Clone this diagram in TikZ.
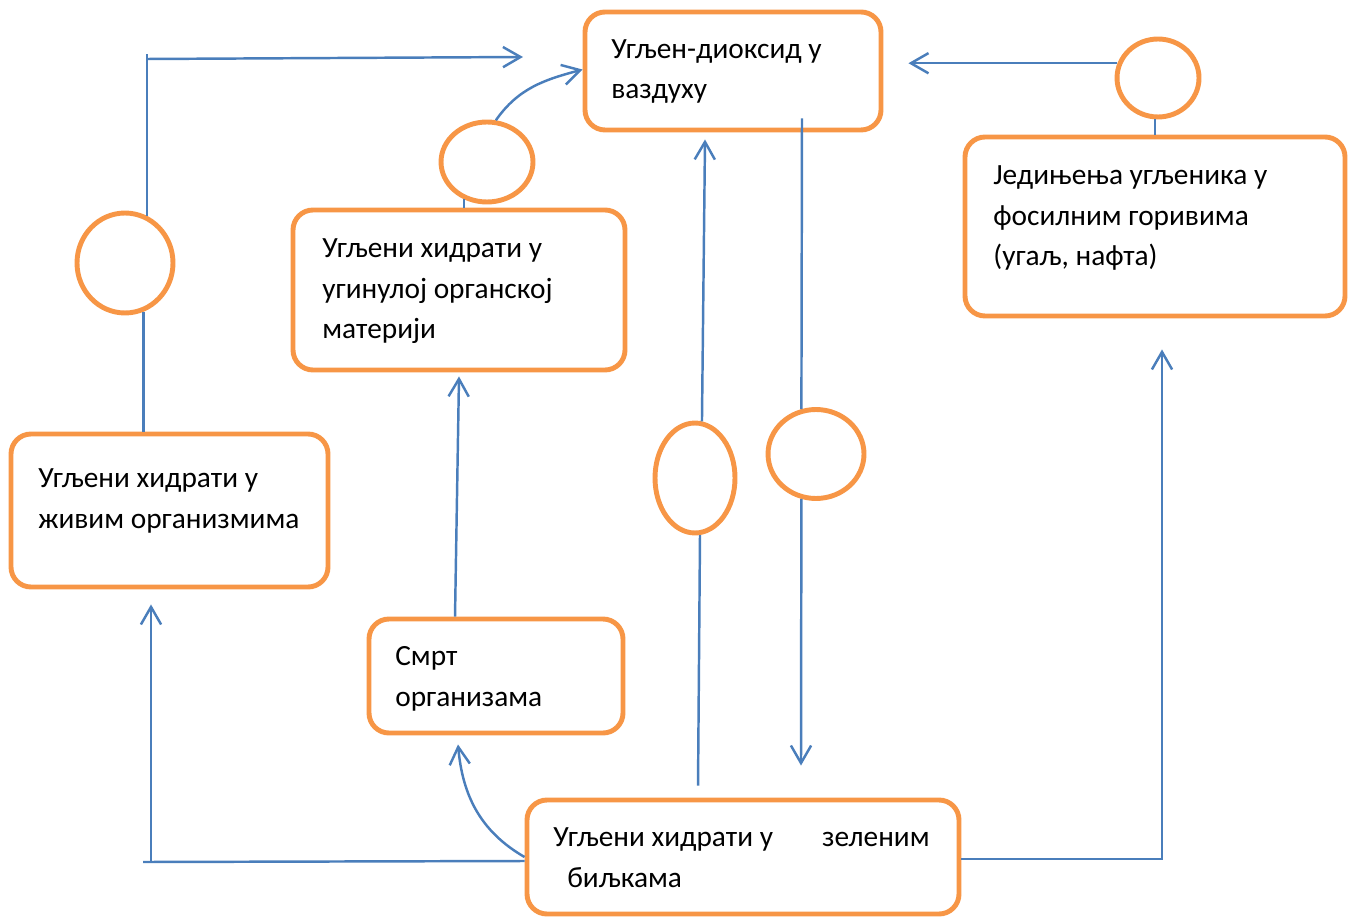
\documentclass[tikz,border=0pt]{standalone}
\usepackage{fontspec}
\setmainfont{Carlito}
\usepackage{tikz}
\usetikzlibrary{arrows.meta,shapes.geometric,fit,calc}
\definecolor{boxorange}{HTML}{F79646}
\definecolor{lineblue}{HTML}{4A7EBB}

\begin{document}
\begin{tikzpicture}[x=0.02cm,y=-0.02cm,
  box/.style={draw=boxorange, line width=2.8pt, rounded corners=0.4cm, inner sep=0pt},
  ring/.style={draw=boxorange, line width=2.8pt, ellipse, fill=white, inner sep=0pt},
  txt/.style={anchor=base west, inner sep=0pt, align=left, font=\fontsize{16.7}{23.3}\selectfont},
  link/.style={draw=lineblue, line width=1.4pt},
  flow/.style={link, -{Straight Barb[length=10pt,width=11.5pt]}}]
\useasboundingbox (0,0) rectangle (1354,918);

% boxes
\node[box, fit={(585,12) (881,130)}] (co2) {};
\node[box, fit={(965,137) (1345,316)}] (fossil) {};
\node[box, fit={(293,210) (625,370)}] (dead) {};
\node[box, fit={(11,434) (328,587)}] (living) {};
\node[box, fit={(369,619) (623,733)}] (death) {};
\node[box, fit={(527,800) (959,914)}] (plants) {};

% texts (placed at the baseline of their last line)
\node[txt] (tco2) at (611,99) {Угљен-диоксид у\\ваздуху};
\node[txt] (tfossil) at (993,266) {Једињења угљеника у\\фосилним горивима\\(угаљ, нафта)};
\node[txt] (tdead) at (322,339) {Угљени хидрати у\\угинулој органској\\материји};
\node[txt] (tliving) at (38,528) {Угљени хидрати у\\живим организмима};
\node[txt] (tdeath) at (395,706) {Смрт\\организама};
\node[txt] (tplants) at (553,887) {Угљени хидрати у\hspace*{0.98cm}зеленим\\\hspace*{0.28cm}биљкама};

% empty circles
\node[ring, minimum width=1.92cm, minimum height=2cm] (c1) at (125,263) {};
\node[ring, minimum width=1.84cm, minimum height=1.6cm] (c2) at (487,162) {};
\node[ring, minimum width=1.6cm, minimum height=2.2cm] (c3) at (695,478) {};
\node[ring, minimum width=1.92cm, minimum height=1.78cm] (c4) at (816,454) {};
\node[ring, minimum width=1.64cm, minimum height=1.56cm] (c5) at (1158,78) {};

% living -> air
\draw[link] (living.north -| c1.-69) -- (c1.-69);
\draw[link] (c1.65) -- (c1.65 |- 0,54);
\coordinate (lcorner) at (c1.65 |- 0,59);
\coordinate (airin) at (523,57);
\draw[flow] (lcorner) -- (airin);

% dead matter -> air
\draw[link] (c2.-122) -- (c2.-122 |- dead.north);
\draw[flow] (c2.78) to[out=55,in=195] ([yshift=-1.2cm]co2.north west);

% death -> dead matter
\draw[flow] ([xshift=-0.82cm]death.north) -- ([yshift=-0.08cm]dead.south);

% plants -> death
\draw[flow] (plants.west) to[out=150,in=-85] ([xshift=-0.76cm,yshift=-0.18cm]death.south);

% plants -> living
\coordinate (lend) at (143,862);
\coordinate (lup) at ([xshift=-0.37cm,yshift=-0.3cm]living.south);
\draw[link] ([yshift=-0.08cm]plants.west) -- (lend);
\draw[flow] (lup |- lend) -- (lup);

% plants <-> air
\draw[link] ([xshift=-0.9cm,yshift=0.24cm]plants.north) -- (c3.-85);
\draw[flow] (c3.83) -- ([xshift=-0.56cm,yshift=-0.14cm]co2.south);
\draw[link] ([xshift=1.38cm,yshift=0.28cm]co2.south) -- (c4.108);
\draw[flow] (c4.-108) -- ([xshift=1.16cm,yshift=0.64cm]plants.north);

% plants -> fossil -> air
\draw[flow] ([yshift=-0.04cm]plants.east) -| ([xshift=0.14cm,yshift=-0.62cm]fossil.south);
\draw[link] (fossil.north) -- (fossil.north |- c5.south);
\coordinate (rin) at ([xshift=0.5cm]co2.east);
\draw[flow] (c5.160) -- (rin |- c5.160);
\end{tikzpicture}
\end{document}
